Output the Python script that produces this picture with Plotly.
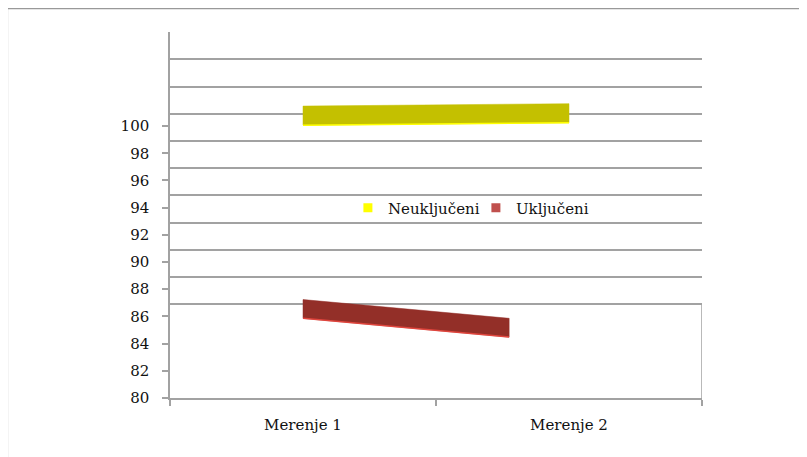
import plotly.graph_objects as go

# ---- data ----
categories = ["Merenje 1", "Merenje 2"]
series_names = ["Neuključeni", "Uključeni"]
neukljuceni = [100.07, 100.25]
ukljuceni = [85.86, 84.48]
y_tick_values = [80, 82, 84, 86, 88, 90, 92, 94, 96, 98, 100]
y_grid_values = [86.9, 88.9, 90.9, 92.9, 94.9, 96.9, 98.9, 100.9, 102.9, 104.9, 106.9]

# ---- style ----
ribbon_thickness = [1.40, 1.38]
ribbon_depth_factor = [1.0, 0.775]  # perspective shortening of the ribbons
ribbon_fill = ["#c4c000", "#932f28"]
ribbon_edge = ["#ffff00", "#e0453d"]
legend_color = ["#ffff00", "#c0504d"]
grid_color = "#a2a2a2"
font = dict(family="DejaVu Serif", size=15, color="#111111")

x_pos = list(range(len(categories)))

fig = go.Figure()

for name, vals, th, dep, fc, ec in zip(series_names, [neukljuceni, ukljuceni],
                                       ribbon_thickness, ribbon_depth_factor,
                                       ribbon_fill, ribbon_edge):
    x0 = x_pos[0]
    x1 = x_pos[0] + (x_pos[1] - x_pos[0]) * dep
    xs = [x0, x1, x1, x0, x0]
    ys = [vals[0], vals[1], vals[1] + th, vals[0] + th, vals[0]]
    fig.add_trace(go.Scatter(x=xs, y=ys, mode="lines", fill="toself",
                             fillcolor=fc, line=dict(color=fc, width=0.5),
                             showlegend=False, hoverinfo="skip"))
    fig.add_trace(go.Scatter(x=[x0, x1], y=[vals[0], vals[1]], mode="lines",
                             line=dict(color=ec, width=1.5),
                             showlegend=False, hoverinfo="skip"))

for name, c in zip(series_names, legend_color):
    fig.add_trace(go.Scatter(x=[None], y=[None], mode="markers", name=name,
                             marker=dict(symbol="square", size=9, color=c)))

# right edge of the floor box
fig.add_shape(type="line", xref="x", yref="y", x0=1.5, x1=1.5,
              y0=80, y1=y_grid_values[0], line=dict(color=grid_color, width=1.5))
# outer chart frame (top and left edges)
fig.add_shape(type="line", xref="paper", yref="paper", x0=-0.306, x1=1.3,
              y0=1.0645, y1=1.0645, line=dict(color="#999999", width=1.8))
fig.add_shape(type="line", xref="paper", yref="paper", x0=-0.306, x1=-0.306,
              y0=1.0645, y1=-0.3, line=dict(color="#999999", width=1.8))

fig.update_layout(
    width=807, height=457,
    margin=dict(l=162, r=113, t=24, b=67),
    paper_bgcolor="white", plot_bgcolor="white",
    font=font,
    showlegend=True,
    legend=dict(orientation="h", x=0.575, y=0.519, xanchor="center",
                yanchor="middle", bgcolor="rgba(255,255,255,0)",
                font=font, itemwidth=30, tracegroupgap=0,
                entrywidth=83, entrywidthmode="pixels"),
)

fig.update_xaxes(
    range=[-0.5, 1.5], tickvals=x_pos, ticktext=categories,
    ticks="", showgrid=False, zeroline=False,
    showline=True, linecolor=grid_color, linewidth=1.5,
    ticklabelstandoff=12,
    minor=dict(tickvals=[-0.5, 0.5, 1.5], ticks="outside", ticklen=6,
               tickcolor=grid_color, tickwidth=1.5, showgrid=False),
)
fig.update_yaxes(
    range=[80, 106.92], tickvals=y_tick_values,
    ticks="outside", ticklen=6, tickcolor=grid_color, tickwidth=1.5,
    showgrid=False, zeroline=False,
    showline=True, linecolor=grid_color, linewidth=1.5,
    ticklabelstandoff=10,
    minor=dict(tickvals=y_grid_values, ticks="", showgrid=True,
               gridcolor=grid_color, gridwidth=1.5),
)

fig.write_html("out.html")
